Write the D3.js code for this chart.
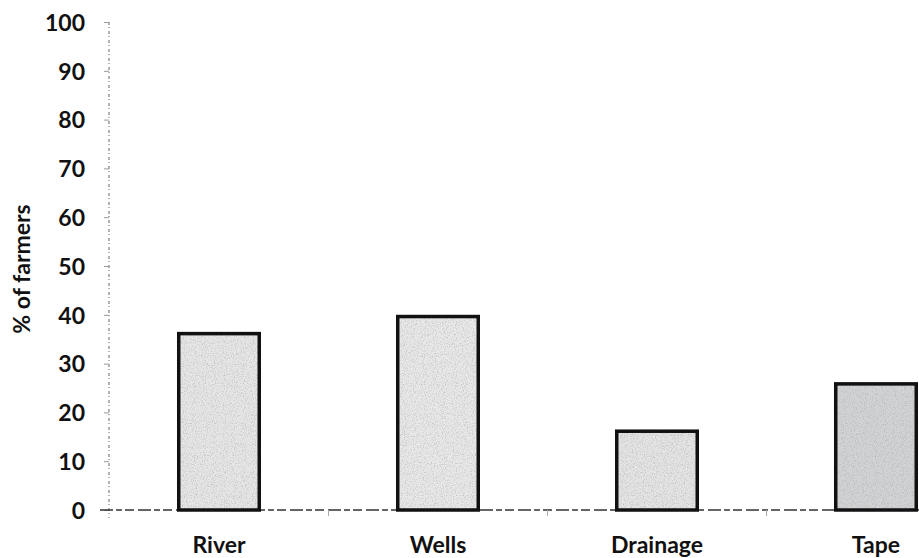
<!DOCTYPE html>
<html>
<head>
<meta charset="utf-8">
<script src="https://cdn.jsdelivr.net/npm/d3@7"></script>
<style>
  html, body { margin: 0; padding: 0; background: #fff; }
  svg { display: block; }
  text { font-family: Lato, "Open Sans", sans-serif; font-weight: 700; fill: #111; }
</style>
</head>
<body>
<svg id="chart" width="919" height="558"></svg>
<script>
// Share of farmers by irrigation water source
const categories = ["River", "Wells", "Drainage", "Tape"];
const values = [36.5, 40, 16.5, 26.2];
const yTicks = [0, 10, 20, 30, 40, 50, 60, 70, 80, 90, 100];
const yTitle = "% of farmers";

const svg = d3.select("#chart");
const W = 919, H = 558;

const x = d3.scaleBand()
  .domain(categories)
  .range([109.5, 985.5])
  .paddingInner(0.6164)
  .paddingOuter(0.3082);

const y = d3.scaleLinear().domain([0, 100]).range([510, 22]);

// grainy fill used inside the bars
const defs = svg.append("defs");
const grain = defs.append("filter").attr("id", "grain")
  .attr("x", 0).attr("y", 0).attr("width", 1).attr("height", 1);
grain.append("feTurbulence").attr("type", "fractalNoise")
  .attr("baseFrequency", 0.9).attr("numOctaves", 2).attr("seed", 3).attr("result", "noise");
grain.append("feColorMatrix").attr("in", "noise").attr("type", "matrix")
  .attr("values", "0 0 0 0 0.35  0 0 0 0 0.35  0 0 0 0 0.37  -1.4 0 0 0 0.75")
  .attr("result", "dots");
grain.append("feComposite").attr("in", "dots").attr("in2", "SourceGraphic").attr("operator", "in");

// y axis
const yAxis = d3.axisLeft(y).tickValues(yTicks).tickSize(5).tickPadding(19);
const gy = svg.append("g").attr("transform", "translate(109,0)").call(yAxis);
gy.select(".domain")
  .attr("d", `M0,${y(100)}V${y(0) + 8}`)
  .attr("stroke", "#8a8a8a").attr("stroke-width", 1.3).attr("stroke-dasharray", "3 2 1 3");
gy.selectAll(".tick line").attr("stroke", "#999").attr("stroke-width", 1);
gy.selectAll(".tick text")
  .attr("font-size", 23).attr("font-family", "Lato, sans-serif").attr("font-weight", 700)
  .attr("fill", "#111").attr("dy", "0.36em");

svg.append("text")
  .attr("transform", "translate(30,269) rotate(-90)")
  .attr("text-anchor", "middle")
  .attr("font-size", 23)
  .text(yTitle);

// x axis baseline with band-boundary ticks
const baseY = y(0);
svg.append("line")
  .attr("x1", 100).attr("x2", W).attr("y1", baseY).attr("y2", baseY)
  .attr("stroke", "#333").attr("stroke-width", 1.6).attr("stroke-dasharray", "13 3 6 3 9 4");
const bounds = categories.slice(1).map(c => x(c) - x.step() * x.paddingInner() / 2);
svg.selectAll(".xtick").data(bounds).join("line")
  .attr("class", "xtick")
  .attr("x1", d => d).attr("x2", d => d)
  .attr("y1", baseY).attr("y2", baseY + 6)
  .attr("stroke", "#aaa").attr("stroke-width", 1);

// bars
const bars = svg.append("g");
const shades = ["#e6e6e6", "#e8e8e8", "#e4e4e4", "#d2d3d5"];
bars.selectAll(".bar-fill").data(categories).join("rect")
  .attr("class", "bar-fill")
  .attr("x", d => x(d)).attr("width", x.bandwidth())
  .attr("y", (d, i) => y(values[i])).attr("height", (d, i) => y(0) - y(values[i]))
  .attr("fill", (d, i) => shades[i]);
bars.selectAll(".bar-grain").data(categories).join("rect")
  .attr("class", "bar-grain")
  .attr("x", d => x(d)).attr("width", x.bandwidth())
  .attr("y", (d, i) => y(values[i])).attr("height", (d, i) => y(0) - y(values[i]))
  .attr("fill", "#000").attr("filter", "url(#grain)");
bars.selectAll(".bar-edge").data(categories).join("rect")
  .attr("class", "bar-edge")
  .attr("x", d => x(d) + 1.75).attr("width", x.bandwidth() - 3.5)
  .attr("y", (d, i) => y(values[i]) + 1.75).attr("height", (d, i) => y(0) - y(values[i]) - 1.75)
  .attr("fill", "none").attr("stroke", "#111").attr("stroke-width", 3.5);

// category labels
svg.selectAll(".xlabel").data(categories).join("text")
  .attr("class", "xlabel")
  .attr("x", d => x(d) + x.bandwidth() / 2)
  .attr("y", 553)
  .attr("text-anchor", "middle")
  .attr("font-size", 23)
  .text(d => d);
</script>
</body>
</html>
